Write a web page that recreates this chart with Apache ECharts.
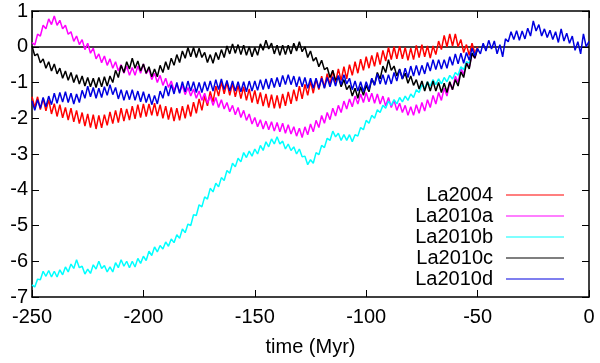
<!DOCTYPE html>
<html>
<head>
<meta charset="utf-8">
<script src="https://cdn.jsdelivr.net/npm/echarts@6/dist/echarts.min.js"></script>
<style>
  html, body { margin: 0; padding: 0; background: #fff; }
  #chart { width: 600px; height: 363px; }
</style>
</head>
<body>
<div id="chart"></div>
<script>
// samples every 1.25 Myr from -250 to -50 (161 values)
const T0 = -250;
const STEP = 1.25;

const names = ['La2004', 'La2010a', 'La2010b', 'La2010c', 'La2010d'];
const colors = ['#ff0000', '#ff00ff', '#00ffff', '#000000', '#0000e0'];

const la2004 = [
  -1.40, -1.70, -1.40, -1.76, -1.44, -1.79, -1.48, -1.88,
  -1.59, -1.95, -1.62, -1.99, -1.70, -2.05, -1.72, -2.10,
  -1.78, -2.15, -1.84, -2.22, -1.88, -2.26, -1.90, -2.30,
  -1.92, -2.27, -1.90, -2.20, -1.82, -2.15, -1.78, -2.12,
  -1.72, -2.08, -1.74, -2.05, -1.66, -2.02, -1.62, -1.98,
  -1.60, -1.95, -1.60, -1.92, -1.58, -1.94, -1.62, -2.00,
  -1.66, -2.04, -1.70, -2.08, -1.72, -2.06, -1.66, -2.00,
  -1.62, -1.95, -1.55, -1.86, -1.46, -1.78, -1.38, -1.65,
  -1.25, -1.55, -1.10, -1.38, -0.98, -1.32, -1.00, -1.36,
  -1.02, -1.40, -1.08, -1.45, -1.12, -1.50, -1.18, -1.56,
  -1.22, -1.60, -1.28, -1.66, -1.32, -1.70, -1.34, -1.72,
  -1.36, -1.72, -1.32, -1.65, -1.26, -1.60, -1.20, -1.52,
  -1.10, -1.46, -1.05, -1.36, -0.96, -1.30, -0.90, -1.20,
  -0.82, -1.14, -0.75, -1.06, -0.66, -1.00, -0.62, -0.94,
  -0.56, -0.90, -0.50, -0.80, -0.42, -0.74, -0.35, -0.66,
  -0.28, -0.60, -0.24, -0.55, -0.16, -0.50, -0.10, -0.40,
  -0.02, -0.36, 0.00, -0.34, 0.02, -0.34, -0.02, -0.38,
  -0.04, -0.36, 0.04, -0.30, 0.06, -0.28, 0.02, -0.32,
  0.02, -0.22, 0.16, -0.08, 0.32, 0.00, 0.36, 0.02,
  0.36, 0.00, 0.20, -0.16, 0.06, -0.24, 0.10, -0.18,
  0.00
];

const la2010a = [
  0.12, 0.05, 0.35, 0.30, 0.60, 0.50, 0.78, 0.62,
  0.86, 0.60, 0.74, 0.50, 0.60, 0.35, 0.42, 0.15,
  0.30, 0.06, 0.20, -0.08, 0.10, -0.18, -0.04, -0.34,
  -0.20, -0.45, -0.26, -0.52, -0.34, -0.60, -0.42, -0.68,
  -0.50, -0.74, -0.54, -0.80, -0.58, -0.80, -0.54, -0.74,
  -0.48, -0.76, -0.62, -0.92, -0.74, -1.00, -0.80, -1.08,
  -0.88, -1.14, -0.96, -1.22, -1.04, -1.28, -1.08, -1.34,
  -1.14, -1.38, -1.18, -1.44, -1.24, -1.50, -1.30, -1.58,
  -1.38, -1.64, -1.42, -1.70, -1.48, -1.74, -1.56, -1.82,
  -1.64, -1.90, -1.70, -1.98, -1.78, -2.06, -1.88, -2.16,
  -1.98, -2.24, -2.04, -2.30, -2.08, -2.32, -2.10, -2.36,
  -2.12, -2.38, -2.14, -2.42, -2.18, -2.44, -2.24, -2.50,
  -2.28, -2.54, -2.24, -2.46, -2.16, -2.38, -2.06, -2.26,
  -1.92, -2.14, -1.84, -2.04, -1.72, -1.94, -1.64, -1.84,
  -1.52, -1.74, -1.46, -1.68, -1.38, -1.60, -1.32, -1.56,
  -1.28, -1.54, -1.30, -1.58, -1.32, -1.60, -1.38, -1.66,
  -1.42, -1.70, -1.50, -1.78, -1.58, -1.84, -1.64, -1.92,
  -1.68, -1.92, -1.62, -1.86, -1.56, -1.80, -1.48, -1.70,
  -1.36, -1.60, -1.28, -1.50, -1.16, -1.38, -1.00, -1.20,
  -0.82, -1.00, -0.60, -0.78, -0.42, -0.58, -0.20, -0.32,
  -0.05
];

const la2010b = [
  -6.66, -6.72, -6.50, -6.52, -6.28, -6.42, -6.26, -6.44,
  -6.28, -6.44, -6.24, -6.38, -6.16, -6.30, -6.08, -6.20,
  -5.96, -6.18, -6.14, -6.36, -6.22, -6.34, -6.10, -6.22,
  -6.00, -6.20, -6.12, -6.30, -6.16, -6.30, -6.04, -6.18,
  -5.96, -6.14, -6.00, -6.18, -6.00, -6.16, -5.92, -6.06,
  -5.86, -5.98, -5.72, -5.84, -5.60, -5.74, -5.56, -5.66,
  -5.46, -5.58, -5.38, -5.48, -5.26, -5.36, -5.10, -5.20,
  -4.96, -5.00, -4.70, -4.72, -4.42, -4.48, -4.20, -4.26,
  -3.96, -4.06, -3.82, -3.92, -3.66, -3.74, -3.46, -3.54,
  -3.26, -3.36, -3.12, -3.22, -2.96, -3.10, -2.92, -3.06,
  -2.86, -3.00, -2.76, -2.90, -2.66, -2.80, -2.58, -2.72,
  -2.52, -2.72, -2.64, -2.86, -2.72, -2.90, -2.80, -3.00,
  -2.86, -3.08, -3.06, -3.30, -3.16, -3.26, -2.96, -3.02,
  -2.76, -2.82, -2.56, -2.62, -2.36, -2.52, -2.42, -2.62,
  -2.46, -2.62, -2.46, -2.66, -2.46, -2.50, -2.26, -2.32,
  -2.06, -2.14, -1.92, -2.00, -1.76, -1.84, -1.64, -1.72,
  -1.52, -1.64, -1.48, -1.60, -1.42, -1.54, -1.38, -1.50,
  -1.32, -1.42, -1.20, -1.28, -1.06, -1.16, -0.98, -1.10,
  -0.92, -1.06, -0.90, -1.04, -0.86, -0.98, -0.80, -0.90,
  -0.72, -0.80, -0.56, -0.64, -0.42, -0.46, -0.18, -0.24,
  -0.05
];

const la2010c = [
  0.02, -0.25, -0.20, -0.45, -0.34, -0.60, -0.42, -0.68,
  -0.48, -0.76, -0.60, -0.88, -0.68, -0.94, -0.72, -1.00,
  -0.78, -1.04, -0.82, -1.10, -0.86, -1.12, -0.88, -1.14,
  -0.86, -1.12, -0.84, -1.10, -0.82, -1.00, -0.66, -0.86,
  -0.52, -0.72, -0.42, -0.62, -0.32, -0.60, -0.40, -0.68,
  -0.48, -0.74, -0.56, -0.84, -0.62, -0.84, -0.52, -0.72,
  -0.42, -0.64, -0.32, -0.52, -0.22, -0.44, -0.12, -0.32,
  -0.02, -0.28, -0.02, -0.30, -0.04, -0.30, -0.16, -0.44,
  -0.22, -0.46, -0.16, -0.36, -0.08, -0.30, 0.02, -0.20,
  0.08, -0.18, 0.06, -0.22, 0.04, -0.24, 0.00, -0.28,
  -0.02, -0.24, 0.08, -0.10, 0.18, -0.06, 0.10, -0.20,
  0.04, -0.24, 0.04, -0.22, 0.04, -0.20, 0.10, -0.12,
  0.14, -0.14, 0.00, -0.30, -0.12, -0.40, -0.30, -0.56,
  -0.38, -0.64, -0.58, -0.86, -0.66, -0.94, -0.84, -1.12,
  -0.92, -1.20, -1.08, -1.38, -1.16, -1.44, -1.12, -1.36,
  -1.08, -1.26, -0.90, -1.06, -0.72, -0.90, -0.54, -0.72,
  -0.36, -0.66, -0.54, -0.82, -0.62, -0.90, -0.74, -1.02,
  -0.82, -1.08, -0.92, -1.18, -0.96, -1.24, -0.98, -1.24,
  -0.96, -1.24, -1.00, -1.28, -1.02, -1.28, -0.98, -1.20,
  -0.92, -1.10, -0.70, -0.86, -0.46, -0.62, -0.18, -0.32,
  -0.05
];

const la2010d = [
  -1.52, -1.78, -1.48, -1.72, -1.42, -1.68, -1.38, -1.62,
  -1.30, -1.58, -1.28, -1.55, -1.26, -1.56, -1.30, -1.60,
  -1.32, -1.56, -1.22, -1.44, -1.10, -1.40, -1.14, -1.44,
  -1.16, -1.42, -1.12, -1.36, -1.06, -1.34, -1.14, -1.46,
  -1.20, -1.50, -1.22, -1.48, -1.20, -1.50, -1.24, -1.54,
  -1.26, -1.56, -1.32, -1.62, -1.36, -1.60, -1.24, -1.44,
  -1.10, -1.38, -1.06, -1.32, -1.00, -1.30, -0.98, -1.26,
  -0.96, -1.24, -0.98, -1.28, -1.00, -1.28, -0.98, -1.24,
  -0.96, -1.24, -0.92, -1.20, -0.90, -1.20, -0.94, -1.24,
  -0.96, -1.24, -0.98, -1.26, -0.98, -1.26, -0.96, -1.24,
  -0.96, -1.22, -0.92, -1.20, -0.90, -1.18, -0.88, -1.14,
  -0.86, -1.12, -0.80, -1.06, -0.78, -1.06, -0.82, -1.12,
  -0.84, -1.12, -0.86, -1.16, -0.88, -1.16, -0.88, -1.16,
  -0.88, -1.16, -0.86, -1.12, -0.84, -1.10, -0.80, -1.06,
  -0.78, -1.04, -0.88, -1.20, -0.96, -1.24, -0.98, -1.26,
  -0.98, -1.20, -0.88, -1.08, -0.76, -1.04, -0.78, -1.06,
  -0.78, -1.04, -0.72, -0.96, -0.64, -0.90, -0.60, -0.86,
  -0.54, -0.82, -0.52, -0.80, -0.52, -0.76, -0.44, -0.68,
  -0.36, -0.64, -0.36, -0.62, -0.36, -0.60, -0.28, -0.52,
  -0.20, -0.48, -0.18, -0.46, -0.16, -0.38, -0.04, -0.26,
  -0.05
];

// -48.75 .. 0 Myr: all five solutions coincide here, La2010d on top
const recent = [
  -0.20, 0.10, -0.12, 0.18, -0.06, 0.16, -0.20, 0.06,
  -0.28, 0.22, 0.14, 0.42, 0.20, 0.45, 0.18, 0.44,
  0.22, 0.52, 0.30, 0.72, 0.44, 0.62, 0.30, 0.50,
  0.26, 0.46, 0.20, 0.42, 0.12, 0.50, 0.16, 0.38,
  0.10, 0.30, -0.10, 0.14, -0.20, 0.36, 0.00, 0.15
];

const xTicks = { min: -250, max: 0, interval: 50 };
const yTicks = { min: -7, max: 1, interval: 1 };

function toPairs(vals, start) {
  return vals.map((v, i) => [start + i * STEP, v]);
}

const seriesValues = [
  toPairs(la2004, T0),
  toPairs(la2010a, T0),
  toPairs(la2010b, T0),
  toPairs(la2010c, T0),
  toPairs(la2010d, T0).concat(toPairs(recent, T0 + la2010d.length * STEP))
];

const axisLine = { show: true, onZero: false, lineStyle: { color: '#000', width: 1.5 } };
const axisTick = { show: true, inside: true, length: 7, lineStyle: { color: '#000', width: 1 } };
const labelFont = { color: '#000', fontSize: 20, fontFamily: 'Liberation Sans' };

const chart = echarts.init(document.getElementById('chart'));
chart.setOption({
  animation: false,
  textStyle: { fontFamily: 'Liberation Sans' },
  grid: { left: 32, right: 11, top: 11, bottom: 66 },
  legend: {
    orient: 'vertical',
    right: 36,
    top: 185,
    align: 'right',
    icon: 'rect',
    itemWidth: 58,
    itemHeight: 1,
    itemGap: 1,
    padding: 0,
    data: names,
    textStyle: { fontSize: 20, lineHeight: 20, color: '#000', padding: [0, 8, 0, 0] }
  },
  xAxis: [
    {
      type: 'value', position: 'bottom', ...xTicks,
      axisLine, axisTick,
      splitLine: { show: false },
      axisLabel: { ...labelFont, margin: 10 },
      name: 'time (Myr)', nameLocation: 'middle', nameGap: 40,
      nameTextStyle: { ...labelFont }
    },
    {
      type: 'value', position: 'top', ...xTicks,
      axisLine, axisTick,
      splitLine: { show: false },
      axisLabel: { show: false }
    }
  ],
  yAxis: [
    {
      type: 'value', position: 'left', ...yTicks,
      axisLine, axisTick,
      splitLine: { show: false },
      axisLabel: { ...labelFont, margin: 4 }
    },
    {
      type: 'value', position: 'right', ...yTicks,
      axisLine, axisTick,
      splitLine: { show: false },
      axisLabel: { show: false }
    }
  ],
  series: names.map((name, k) => ({
    name,
    type: 'line',
    data: seriesValues[k],
    color: colors[k],
    showSymbol: false,
    symbol: 'none',
    lineStyle: { width: 1.5, color: colors[k] },
    z: 2,
    markLine: k === 0 ? {
      silent: true,
      symbol: 'none',
      z: 1,
      label: { show: false },
      lineStyle: { color: '#000', width: 1.5, type: 'solid' },
      data: [{ yAxis: 0 }]
    } : undefined
  }))
});
</script>
</body>
</html>
